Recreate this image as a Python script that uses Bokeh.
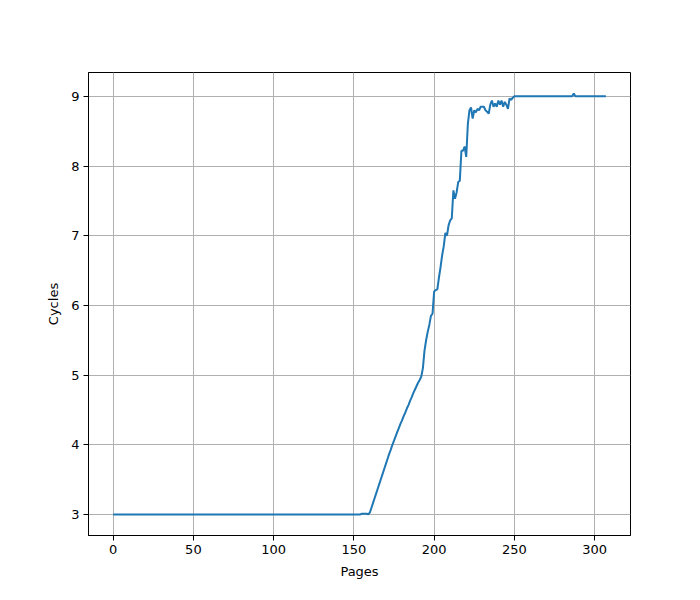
from bokeh.plotting import figure
from bokeh.embed import file_html
from bokeh.resources import INLINE
from bokeh.models import Range1d, FixedTicker

# Cycles per page (pages 0..307)
cycles = (
    [3.0] * 155
    + [3.01, 3.01, 3.01, 3.01, 3.0]
    + [3.03, 3.10, 3.17, 3.24, 3.31, 3.38, 3.45, 3.52, 3.59, 3.66,
       3.73, 3.80, 3.87, 3.93, 4.00, 4.06, 4.12, 4.18, 4.24, 4.30,
       4.35, 4.41, 4.46, 4.52, 4.57, 4.63, 4.68, 4.74, 4.79, 4.84,
       4.89, 4.93, 4.98]
    + [5.10, 5.35, 5.50, 5.62, 5.72, 5.85, 5.88, 6.20, 6.22, 6.23,
       6.40, 6.55, 6.72, 6.85, 7.04, 7.00, 7.15, 7.22, 7.25, 7.65,
       7.53, 7.62, 7.77, 7.79, 8.22, 8.22, 8.28, 8.13, 8.60, 8.80,
       8.84, 8.68, 8.80, 8.77, 8.82, 8.80, 8.85, 8.85, 8.85, 8.80,
       8.78, 8.75, 8.88, 8.94, 8.85, 8.90, 8.85, 8.94, 8.88, 8.94,
       8.85, 8.92, 8.88, 8.82, 8.97, 8.95, 8.98]
    + [9.0] * 37
    + [9.04]
    + [9.0] * 20
)
pages = list(range(len(cycles)))

x_ticks = [0, 50, 100, 150, 200, 250, 300]
y_ticks = [3, 4, 5, 6, 7, 8, 9]

xmin, xmax = min(pages), max(pages)
ymin, ymax = min(cycles), max(cycles)
xm = (xmax - xmin) * 0.05
ym = (ymax - ymin) * 0.05

p = figure(width=700, height=600, output_backend="svg", toolbar_location=None,
           x_range=Range1d(xmin - xm, xmax + xm), y_range=Range1d(ymin - ym, ymax + ym),
           min_border_left=88, min_border_right=70, min_border_top=72, min_border_bottom=65)

p.line(pages, cycles, line_color="#1f77b4", line_width=2)

p.outline_line_color = "black"
p.outline_line_width = 1
p.background_fill_color = "white"
p.border_fill_color = "white"

for ax, ticks, label in ((p.xaxis[0], x_ticks, "Pages"), (p.yaxis[0], y_ticks, "Cycles")):
    ax.ticker = FixedTicker(ticks=ticks)
    ax.axis_label = label
    ax.axis_label_text_font = "DejaVu Sans"
    ax.axis_label_text_font_size = "13px"
    ax.axis_label_text_font_style = "normal"
    ax.axis_label_text_color = "black"
    ax.major_label_text_font = "DejaVu Sans"
    ax.major_label_text_font_size = "13px"
    ax.major_label_text_color = "black"
    ax.axis_line_color = "black"
    ax.major_tick_line_color = "black"
    ax.major_tick_out = 5
    ax.major_tick_in = 0
    ax.minor_tick_line_color = None
    ax.axis_label_standoff = 7
    ax.major_label_standoff = 4

p.xgrid.ticker = FixedTicker(ticks=x_ticks)
p.ygrid.ticker = FixedTicker(ticks=y_ticks)
for g in (p.xgrid[0], p.ygrid[0]):
    g.grid_line_color = "#b0b0b0"
    g.grid_line_width = 1

open("out.html", "w").write(file_html(p, INLINE))
